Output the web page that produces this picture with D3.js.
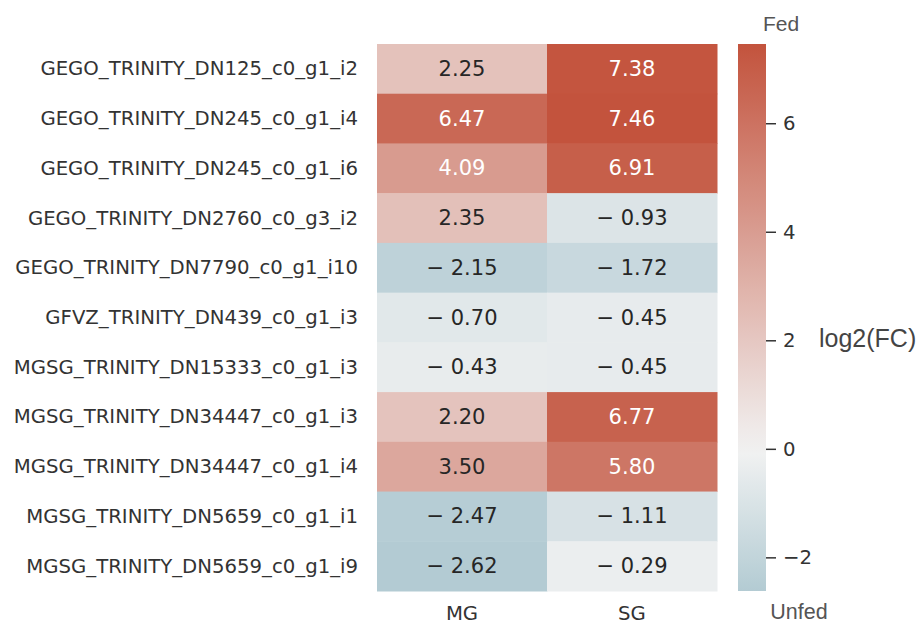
<!DOCTYPE html>
<html>
<head>
<meta charset="utf-8">
<script src="https://cdn.jsdelivr.net/npm/d3@7"></script>
<style>
  body { margin: 0; background: #fff; }
  svg { display: block; }
</style>
</head>
<body>
<svg id="chart"></svg>
<script>
const genes = [
  'GEGO_TRINITY_DN125_c0_g1_i2',
  'GEGO_TRINITY_DN245_c0_g1_i4',
  'GEGO_TRINITY_DN245_c0_g1_i6',
  'GEGO_TRINITY_DN2760_c0_g3_i2',
  'GEGO_TRINITY_DN7790_c0_g1_i10',
  'GFVZ_TRINITY_DN439_c0_g1_i3',
  'MGSG_TRINITY_DN15333_c0_g1_i3',
  'MGSG_TRINITY_DN34447_c0_g1_i3',
  'MGSG_TRINITY_DN34447_c0_g1_i4',
  'MGSG_TRINITY_DN5659_c0_g1_i1',
  'MGSG_TRINITY_DN5659_c0_g1_i9'
];
const tissues = ['MG', 'SG'];
const mgValues = [2.25, 6.47, 4.09, 2.35, -2.15, -0.70, -0.43, 2.20, 3.50, -2.47, -2.62];
const sgValues = [7.38, 7.46, 6.91, -0.93, -1.72, -0.45, -0.45, 6.77, 5.80, -1.11, -0.29];
const cbarTicks = [-2, 0, 2, 4, 6];

const width = 922, height = 625;
const svg = d3.select('#chart').attr('width', width).attr('height', height);

const mLeft = 377, mRight = 717, mTop = 44, mBottom = 591;

const cells = [];
genes.forEach((g, i) => {
  cells.push({ gene: g, tissue: 'MG', value: mgValues[i] });
  cells.push({ gene: g, tissue: 'SG', value: sgValues[i] });
});

const vmin = d3.min(cells, d => d.value);
const vmax = d3.max(cells, d => d.value);
const span = Math.max(Math.abs(vmin), Math.abs(vmax));

// diverging palette centred on 0 (blue -> light -> red)
const color = d3.scaleLinear()
  .domain([-span, 0, span])
  .range(['#3e839a', '#f2f2f2', '#c3533d'])
  .interpolate(d3.interpolateRgb)
  .clamp(true);

const x = d3.scaleBand().domain(tissues).range([mLeft, mRight]);
const y = d3.scaleBand().domain(genes).range([mTop, mBottom]);

function luminance(c) {
  const rgb = d3.rgb(c);
  const lin = v => { v /= 255; return v <= 0.03928 ? v / 12.92 : Math.pow((v + 0.055) / 1.055, 2.4); };
  return 0.2126 * lin(rgb.r) + 0.7152 * lin(rgb.g) + 0.0722 * lin(rgb.b);
}

const fmt = v => (v < 0 ? '\u2212 ' : '') + Math.abs(v).toFixed(2);

svg.append('g').selectAll('rect')
  .data(cells)
  .enter()
  .append('rect')
  .attr('x', d => x(d.tissue))
  .attr('y', d => y(d.gene))
  .attr('width', x.bandwidth() + 0.5)
  .attr('height', y.bandwidth() + 0.5)
  .attr('fill', d => color(d.value));

svg.append('g').selectAll('text')
  .data(cells)
  .enter()
  .append('text')
  .attr('x', d => x(d.tissue) + x.bandwidth() / 2)
  .attr('y', d => y(d.gene) + y.bandwidth() / 2)
  .attr('text-anchor', 'middle')
  .attr('dominant-baseline', 'central')
  .attr('font-family', '"DejaVu Sans", sans-serif')
  .attr('font-size', 21)
  .attr('fill', d => luminance(color(d.value)) > 0.408 ? '#262626' : '#ffffff')
  .text(d => fmt(d.value));

// row labels
svg.append('g').selectAll('text')
  .data(genes)
  .enter()
  .append('text')
  .attr('x', mLeft - 19)
  .attr('y', d => y(d) + y.bandwidth() / 2)
  .attr('text-anchor', 'end')
  .attr('dominant-baseline', 'central')
  .attr('font-family', '"DejaVu Sans", sans-serif')
  .attr('font-size', 19.7)
  .attr('fill', '#333')
  .text(d => d);

// column labels
svg.append('g').selectAll('text')
  .data(tissues)
  .enter()
  .append('text')
  .attr('x', d => x(d) + x.bandwidth() / 2)
  .attr('y', 613)
  .attr('text-anchor', 'middle')
  .attr('dominant-baseline', 'central')
  .attr('font-family', '"DejaVu Sans", sans-serif')
  .attr('font-size', 19.7)
  .attr('fill', '#333')
  .text(d => d);

// colorbar
const cbX = 738, cbW = 28;
const cbScale = d3.scaleLinear().domain([vmin, vmax]).range([mBottom, mTop]);

const defs = svg.append('defs');
const grad = defs.append('linearGradient')
  .attr('id', 'cbar')
  .attr('x1', 0).attr('y1', 1).attr('x2', 0).attr('y2', 0);
d3.range(0, 21).forEach(i => {
  const v = vmin + (vmax - vmin) * i / 20;
  grad.append('stop').attr('offset', `${i * 5}%`).attr('stop-color', color(v));
});

svg.append('rect')
  .attr('x', cbX)
  .attr('y', mTop)
  .attr('width', cbW)
  .attr('height', mBottom - mTop)
  .attr('fill', 'url(#cbar)');

const cbAxis = svg.append('g')
  .attr('transform', `translate(${cbX + cbW},0)`)
  .call(d3.axisRight(cbScale).tickValues(cbarTicks).tickSize(10).tickPadding(7)
    .tickFormat(d => d < 0 ? '\u2212' + Math.abs(d) : d));
cbAxis.select('.domain').remove();
cbAxis.selectAll('line').attr('stroke', '#333').attr('stroke-width', 1.5);
cbAxis.selectAll('text')
  .attr('font-family', '"DejaVu Sans", sans-serif')
  .attr('font-size', 19.7)
  .attr('fill', '#333');

svg.append('text')
  .attr('x', 781).attr('y', 23)
  .attr('text-anchor', 'middle')
  .attr('dominant-baseline', 'central')
  .attr('font-family', '"Liberation Sans", Arial, sans-serif')
  .attr('font-size', 21)
  .attr('fill', '#555')
  .text('Fed');

svg.append('text')
  .attr('x', 799).attr('y', 612)
  .attr('text-anchor', 'middle')
  .attr('dominant-baseline', 'central')
  .attr('font-family', '"Liberation Sans", Arial, sans-serif')
  .attr('font-size', 21.5)
  .attr('fill', '#555')
  .text('Unfed');

svg.append('text')
  .attr('x', 819).attr('y', 338)
  .attr('text-anchor', 'start')
  .attr('dominant-baseline', 'central')
  .attr('font-family', '"Liberation Sans", Arial, sans-serif')
  .attr('font-size', 25)
  .attr('fill', '#444')
  .text('log2(FC)');
</script>
</body>
</html>
